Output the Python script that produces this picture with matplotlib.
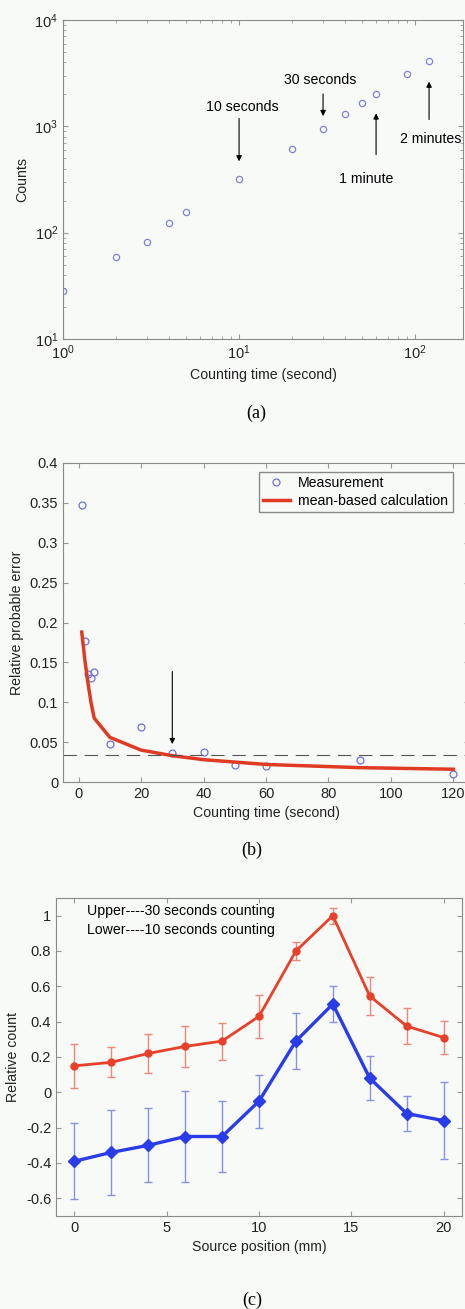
import matplotlib.pyplot as plt
import numpy as np

plt.rcParams['font.family'] = ['Liberation Sans', 'DejaVu Sans']

# (a) counts vs counting time
time_s = [1, 2, 3, 4, 5, 10, 20, 30, 40, 50, 60, 90, 120]
counts = [28, 59, 81, 122, 155, 318, 611, 951, 1306, 1660, 2020, 3090, 4130]

# (b) relative probable error
rel_err_meas = [0.347, 0.177, 0.135, 0.130, 0.138, 0.048, 0.069, 0.036, 0.037,
                0.021, 0.020, 0.027, 0.010]
rel_err_calc = [0.188, 0.153, 0.124, 0.099, 0.080, 0.056, 0.040, 0.033, 0.028,
                0.025, 0.022, 0.018, 0.016]
err_threshold = 0.034

# (c) relative count vs source position
position_mm = [0, 2, 4, 6, 8, 10, 12, 14, 16, 18, 20]
upper_30s = [0.15, 0.17, 0.22, 0.26, 0.29, 0.43, 0.80, 1.00, 0.545, 0.375, 0.31]
upper_err = [0.125, 0.085, 0.11, 0.115, 0.105, 0.12, 0.05, 0.045, 0.11, 0.10, 0.095]
lower_10s = [-0.39, -0.34, -0.30, -0.25, -0.25, -0.05, 0.29, 0.50, 0.08, -0.12, -0.16]
lower_err = [0.215, 0.24, 0.21, 0.255, 0.20, 0.15, 0.16, 0.10, 0.125, 0.10, 0.22]

BG = '#f8faf8'
SPINE = '#8a8a8a'
TXT = '#222222'
FS = 10.2
W, H = 465, 1309


def px_axes(fig, left, right, top, bottom):
    return fig.add_axes([left / W, 1 - bottom / H, (right - left) / W, (bottom - top) / H])


def style_axes(ax):
    ax.set_facecolor(BG)
    for s in ax.spines.values():
        s.set_color(SPINE)
        s.set_linewidth(0.8)
    ax.tick_params(which='both', direction='in', top=True, right=True,
                   colors='#999999', labelcolor=TXT, labelsize=10.5)
    ax.tick_params(which='major', length=3.5)
    ax.tick_params(which='minor', length=2)


fig = plt.figure(figsize=(W / 100, H / 100), dpi=100, facecolor=BG)

# ---- panel (a)
ax1 = px_axes(fig, 63, 463, 20, 339)
style_axes(ax1)
ax1.loglog(time_s, counts, 'o', ms=4.5, mfc='none', mec='#8080e0', mew=0.9)
ax1.set_xlim(1, 187)
ax1.set_ylim(10, 1e4)
ax1.set_xlabel('Counting time (second)', fontsize=FS, color=TXT)
ax1.set_ylabel('Counts', fontsize=FS, color=TXT)
arrow = dict(arrowstyle='-|>', color='k', lw=0.8, mutation_scale=8)
ax1.annotate('', xy=(10, 441), xytext=(10, 1260), arrowprops=arrow)
ax1.text(10.4, 1535, '10 seconds', ha='center', va='center', fontsize=FS)
ax1.annotate('', xy=(30, 1175), xytext=(30, 2140), arrowprops=arrow)
ax1.text(28.9, 2700, '30 seconds', ha='center', va='center', fontsize=FS)
ax1.annotate('', xy=(60, 1406), xytext=(60, 511), arrowprops=arrow)
ax1.text(52.8, 323, '1 minute', ha='center', va='center', fontsize=FS)
ax1.annotate('', xy=(120, 2800), xytext=(120, 1091), arrowprops=arrow)
ax1.text(122, 759, '2 minutes', ha='center', va='center', fontsize=FS)
fig.text(256 / W, 1 - 413 / H, '(a)', ha='center', va='center',
         fontsize=13, family='Liberation Serif')

# ---- panel (b)
ax2 = px_axes(fig, 63, 469, 463, 782)
style_axes(ax2)
ax2.plot(time_s, rel_err_meas, 'o', ms=5, mfc='none', mec='#7070e0', mew=0.9,
         label='Measurement')
ax2.plot(time_s, rel_err_calc, '-', color='#e03a22', lw=2.5,
         label='mean-based calculation')
ax2.axhline(err_threshold, color='#555555', lw=0.8, ls=(0, (12, 7)))
ax2.annotate('', xy=(30, 0.044), xytext=(30, 0.142), arrowprops=arrow)
ax2.set_xlim(-5, 125)
ax2.set_ylim(0, 0.4)
ax2.set_xticks(np.arange(0, 121, 20))
ax2.set_yticks(np.arange(0, 0.41, 0.05))
ax2.set_yticklabels(['0', '0.05', '0.1', '0.15', '0.2', '0.25', '0.3', '0.35', '0.4'])
ax2.set_xlabel('Counting time (second)', fontsize=FS, color=TXT)
ax2.set_ylabel('Relative probable error', fontsize=FS, color=TXT)
leg = ax2.legend(loc='upper right', bbox_to_anchor=(0.97, 0.985),
                 fontsize=FS, fancybox=False, framealpha=1, edgecolor='#888888',
                 borderaxespad=0.3, handlelength=1.9, handletextpad=0.6,
                 borderpad=0.3, labelspacing=0.25)
leg.get_frame().set_facecolor(BG)
fig.text(252 / W, 1 - 850 / H, '(b)', ha='center', va='center',
         fontsize=13, family='Liberation Serif')

# ---- panel (c)
ax3 = px_axes(fig, 56, 462, 898, 1216)
style_axes(ax3)
ax3.errorbar(position_mm, upper_30s, yerr=upper_err, fmt='-o', color='#e8402a',
             ecolor='#f08878', elinewidth=1, capsize=3, lw=2, ms=5)
ax3.errorbar(position_mm, lower_10s, yerr=lower_err, fmt='-D', color='#2a3ce8',
             ecolor='#8890e8', elinewidth=1, capsize=3, lw=2.4, ms=6)
ax3.set_xlim(-1, 21)
ax3.set_ylim(-0.7, 1.1)
ax3.set_xticks([0, 5, 10, 15, 20])
ax3.set_yticks([-0.6, -0.4, -0.2, 0, 0.2, 0.4, 0.6, 0.8, 1])
ax3.set_yticklabels(['-0.6', '-0.4', '-0.2', '0', '0.2', '0.4', '0.6', '0.8', '1'])
ax3.text(0.7, 1.025, 'Upper----30 seconds counting', ha='left', va='center', fontsize=FS)
ax3.text(0.7, 0.92, 'Lower----10 seconds counting', ha='left', va='center', fontsize=FS)
ax3.set_xlabel('Source position (mm)', fontsize=FS, color=TXT)
ax3.set_ylabel('Relative count', fontsize=FS, color=TXT)
fig.text(252 / W, 1 - 1300 / H, '(c)', ha='center', va='center',
         fontsize=13, family='Liberation Serif')

fig.savefig('out.png', dpi=100, facecolor=BG)
